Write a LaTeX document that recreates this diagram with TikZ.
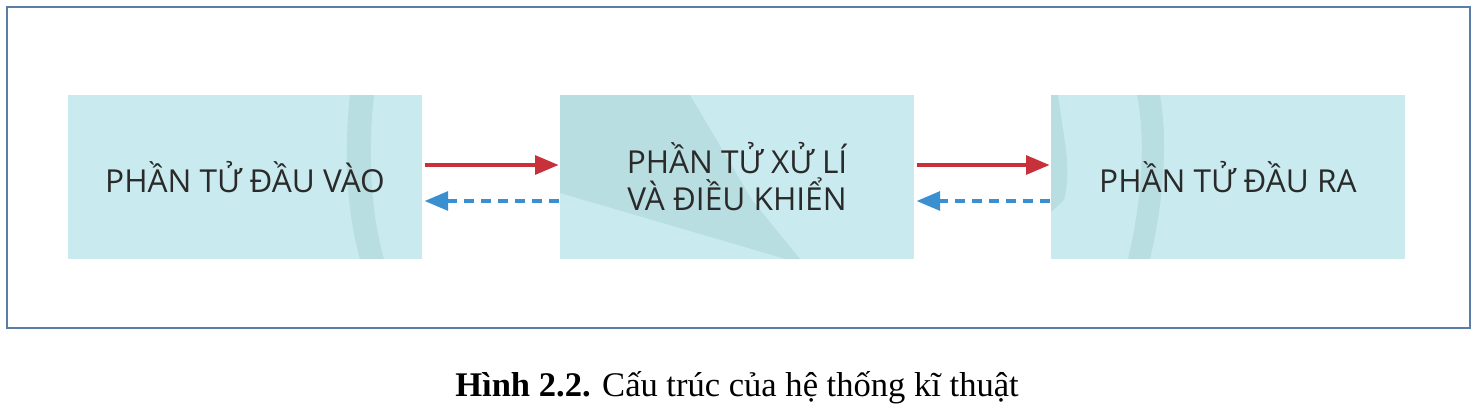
\documentclass[tikz,border=0pt]{standalone}
\usepackage{fontspec}
\setmainfont{Liberation Serif}
\newfontfamily\boxfont{Open Sans}
\usetikzlibrary{arrows.meta,backgrounds}
\definecolor{framec}{HTML}{5A7DA8}
\definecolor{boxc}{HTML}{C9EBEF}
\definecolor{bandc}{HTML}{B9DEE2}
\definecolor{redc}{HTML}{C8313A}
\definecolor{bluec}{HTML}{3A8FD0}
\definecolor{txtc}{HTML}{2A2A2A}
\tikzset{
  box/.style={minimum width=10.62cm, minimum height=4.92cm, inner sep=0pt,
    font=\boxfont\fontsize{27}{31.5}\selectfont, text=txtc, align=center},
  boxfill/.style={fill=boxc},
  band/.style={fill=bandc},
  fwd/.style={draw=redc, line width=3pt, -{Triangle[length=20pt,width=16pt]}},
  bwd/.style={draw=bluec, line width=3pt, dash pattern=on 8.5pt off 6pt, -{Triangle[length=20pt,width=16pt]}},
}
\begin{document}
\begin{tikzpicture}[x=0.03cm,y=-0.03cm]
\useasboundingbox (0,0) rectangle (1479,415);
\draw[framec, line width=1.4pt] (7,7) rectangle (1470,328);
\node[box] (b1) at (245,177) {PHẦN TỬ ĐẦU VÀO};
\node[box] (b2) at (737,177) {PHẦN TỬ XỬ LÍ\\VÀ ĐIỀU KHIỂN};
\node[box] (b3) at (1228,177) {PHẦN TỬ ĐẦU RA};
\begin{scope}[on background layer]
  \fill[boxfill] (b1.north west) rectangle (b1.south east);
  \fill[boxfill] (b2.north west) rectangle (b2.south east);
  \fill[boxfill] (b3.north west) rectangle (b3.south east);
  \fill[band] (350,95) .. controls (344,150) and (346,210) .. (360,259) -- (384,259) .. controls (370,210) and (368,150) .. (374,95) -- cycle;
  \fill[band] (560,95) -- (690,95) -- (752,200) -- (800,259) -- (785,259) -- (755,250) -- (560,193) -- cycle;
  \fill[band] (1051,95) -- (1058,95) .. controls (1064,140) and (1072,170) .. (1064,200) -- (1051,212) -- cycle;
  \fill[band] (1137,95) .. controls (1146,140) and (1142,200) .. (1128,259) -- (1150,259) .. controls (1164,200) and (1168,140) .. (1160,95) -- cycle;
\end{scope}
\draw[fwd] ([yshift=0.36cm,xshift=2pt]b1.east) -- ([yshift=0.36cm,xshift=-1pt]b2.west);
\draw[bwd] ([yshift=-0.72cm,xshift=-1pt]b2.west) -- ([yshift=-0.72cm,xshift=2pt]b1.east);
\draw[fwd] ([yshift=0.36cm,xshift=2pt]b2.east) -- ([yshift=0.36cm,xshift=-1pt]b3.west);
\draw[bwd] ([yshift=-0.72cm,xshift=-1pt]b3.west) -- ([yshift=-0.72cm,xshift=2pt]b2.east);
\node[font=\fontsize{29.5}{34}\selectfont, text=black] (cap) at (737,388) {\textbf{Hình 2.2.} Cấu trúc của hệ thống kĩ thuật};
\end{tikzpicture}
\end{document}
